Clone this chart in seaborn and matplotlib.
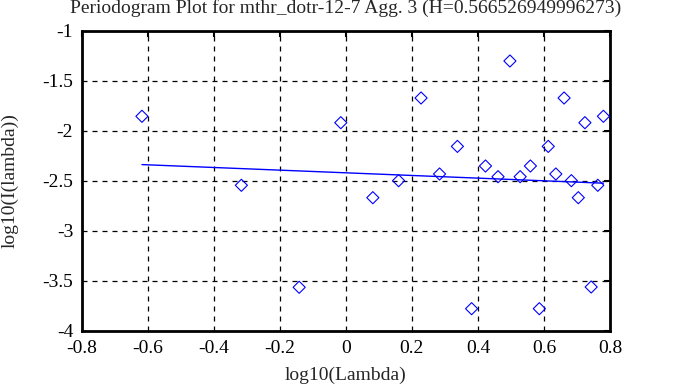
import matplotlib
matplotlib.use("Agg")
import matplotlib.pyplot as plt
import seaborn as sns
import pandas as pd

sns.set_style("white")
plt.rcParams['font.family'] = ['Liberation Serif', 'DejaVu Serif']

# periodogram points
log_lambda = [-0.617, -0.316, -0.141, -0.015, 0.082, 0.160, 0.228, 0.284, 0.338,
              0.381, 0.423, 0.461, 0.497, 0.528, 0.559, 0.586, 0.613, 0.636,
              0.661, 0.683, 0.704, 0.724, 0.743, 0.763, 0.780]
log_i = [-1.856, -2.546, -3.566, -1.920, -2.670, -2.500, -1.673, -2.433, -2.157,
         -3.780, -2.353, -2.460, -1.303, -2.460, -2.353, -3.780, -2.157, -2.433,
         -1.673, -2.500, -2.670, -1.920, -3.563, -2.546, -1.856]

# fitted line (ends)
fit_x = [-0.617, 0.780]
fit_y = [-2.339, -2.525]

title = "Periodogram Plot for mthr_dotr-12-7 Agg. 3 (H=0.566526949996273)"
xticks = [-0.8, -0.6, -0.4, -0.2, 0, 0.2, 0.4, 0.6, 0.8]
xtick_labels = ['-0.8', '-0.6', '-0.4', '-0.2', '0', '0.2', '0.4', '0.6', '0.8']
yticks = [-4, -3.5, -3, -2.5, -2, -1.5, -1]
ytick_labels = ['-4', '-3.5', '-3', '-2.5', '-2', '-1.5', '-1']

df = pd.DataFrame({'x': log_lambda, 'y': log_i})
fit = pd.DataFrame({'x': fit_x, 'y': fit_y})

fig = plt.figure(figsize=(6.73, 3.87), dpi=100)
ax = fig.add_axes([0.1211, 0.1455, 0.7853, 0.7752])

sns.scatterplot(data=df, x='x', y='y', ax=ax, marker='D', s=38,
                facecolor='none', edgecolor='#0000ff', linewidth=0.8, zorder=3)
sns.lineplot(data=fit, x='x', y='y', ax=ax, color='#0000ff', linewidth=1.0, zorder=2)

ax.set_xlim(-0.8, 0.8)
ax.set_ylim(-4, -1)
ax.set_xticks(xticks)
ax.set_xticklabels(xtick_labels)
ax.set_yticks(yticks)
ax.set_yticklabels(ytick_labels)

ax.grid(True, color='black', linestyle=(0, (4, 4)), linewidth=0.9)
ax.tick_params(direction='in', length=4, width=1.5, top=True, right=True,
               labelsize=14, colors='black')
ax.tick_params(axis='x', pad=7)
ax.tick_params(axis='y', pad=6)
for sp in ax.spines.values():
    sp.set_linewidth(2)
    sp.set_color('black')

ax.set_xlabel('log10(Lambda)', fontsize=14)
ax.set_ylabel('log10(I(lambda))', fontsize=14)
ax.xaxis.set_label_coords(0.5, -0.148)
ax.yaxis.set_label_coords(-0.135, 0.5)
ax.xaxis.label.set_va('center')
ax.yaxis.label.set_va('center')
ax.set_title(title, fontsize=14, y=1.059, pad=0)

fig.savefig('out.png', dpi=100)
